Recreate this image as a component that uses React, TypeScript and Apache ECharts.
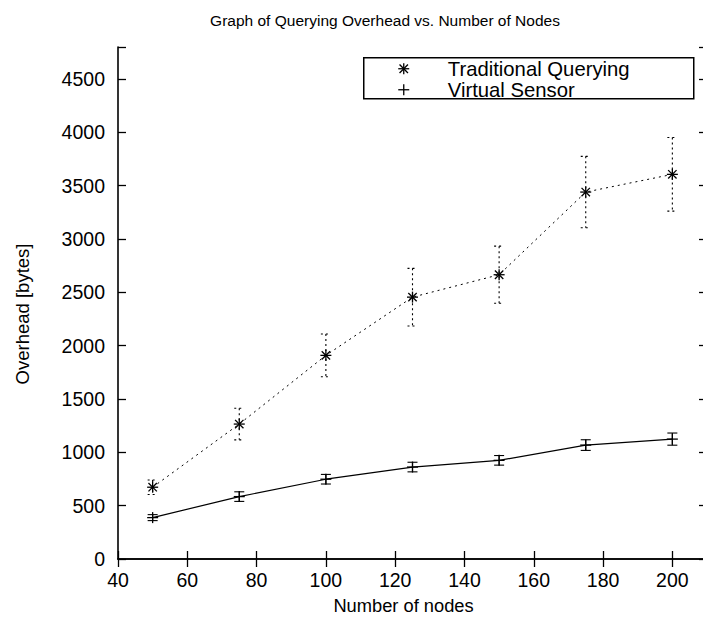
import React, { useEffect, useRef } from "react";
import * as echarts from "echarts";

// Number of nodes in each experiment
const nodes = [50, 75, 100, 125, 150, 175, 200];
// Mean overhead in bytes and the half-width of each error bar
const traditional = [673, 1265, 1909, 2455, 2665, 3440, 3606];
const traditionalErr = [68, 148, 200, 270, 268, 335, 345];
const virtualSensor = [388, 585, 748, 862, 925, 1068, 1124];
const virtualErr = [28, 45, 45, 45, 45, 50, 57];

const xTicks = [40, 60, 80, 100, 120, 140, 160, 180, 200];
const yTicks = [0, 500, 1000, 1500, 2000, 2500, 3000, 3500, 4000, 4500];

const FONT = "'Liberation Sans', Arial, Helvetica, sans-serif";
const TICK_SIZE = 19.5;

type Pt = [number, number];

function markerLines(cx: number, cy: number, star: boolean) {
  const h = 5.5;
  const d = 4.2;
  const segs: [number, number, number, number][] = [
    [cx - h, cy, cx + h, cy],
    [cx, cy - h, cx, cy + h],
  ];
  if (star) {
    segs.push([cx - d, cy - d, cx + d, cy + d]);
    segs.push([cx - d, cy + d, cx + d, cy - d]);
  }
  return segs.map((s) => ({
    type: "line",
    shape: { x1: s[0], y1: s[1], x2: s[2], y2: s[3] },
    style: { stroke: "#000", lineWidth: 1.3 },
  }));
}

function errorSeries(name: string, values: number[], errs: number[], dashed: boolean, star: boolean) {
  return {
    name,
    type: "custom",
    xAxisIndex: 0,
    yAxisIndex: 0,
    data: nodes.map((n, i) => [n, values[i], errs[i]]),
    renderItem: (_params: any, api: any) => {
      const x = api.value(0);
      const y = api.value(1);
      const e = api.value(2);
      const p: Pt = api.coord([x, y]);
      const top: Pt = api.coord([x, y + e]);
      const bot: Pt = api.coord([x, y - e]);
      const cap = 5;
      const barStyle: any = { stroke: "#000", lineWidth: 1.1 };
      if (dashed) barStyle.lineDash = [2, 3];
      const children: any[] = [
        { type: "line", shape: { x1: top[0], y1: top[1], x2: bot[0], y2: bot[1] }, style: barStyle },
        { type: "line", shape: { x1: top[0] - cap, y1: top[1], x2: top[0] + cap, y2: top[1] }, style: barStyle },
        { type: "line", shape: { x1: bot[0] - cap, y1: bot[1], x2: bot[0] + cap, y2: bot[1] }, style: barStyle },
        ...markerLines(p[0], p[1], star),
      ];
      return { type: "group", children };
    },
    z: 3,
  };
}

function lineSeries(name: string, values: number[], dashed: boolean) {
  return {
    name,
    type: "line",
    data: nodes.map((n, i) => [n, values[i]]),
    symbol: "none",
    lineStyle: { color: "#000", width: dashed ? 1 : 1.2, type: dashed ? [2, 4] : "solid" },
    z: 2,
  };
}

export default function App() {
  const ref = useRef<HTMLDivElement>(null);

  useEffect(() => {
    if (!ref.current) return;
    const chart = echarts.init(ref.current, undefined, { renderer: "svg" });

    const axisLine = { show: true, lineStyle: { color: "#000", width: 1.6 } };
    const tickInside = { show: true, inside: true, length: 8, lineStyle: { color: "#000", width: 1.3 } };

    chart.setOption({
      animation: false,
      backgroundColor: "#fff",
      title: {
        text: "Graph of Querying Overhead vs. Number of Nodes",
        left: 380,
        top: 7,
        textAlign: "center",
        textStyle: { fontFamily: FONT, fontSize: 15.5, fontWeight: "normal", color: "#000" },
      },
      grid: { left: 118, top: 47, right: 5, bottom: 65, outerBoundsMode: "none", containLabel: false },
      xAxis: [
        {
          type: "value",
          min: 40,
          max: 210,
          interval: 20,
          name: "Number of nodes",
          nameLocation: "middle",
          nameGap: 37,
          nameTextStyle: { fontFamily: FONT, fontSize: 18.3, color: "#000", padding: [0, 18, 0, 0] },
          axisLine,
          axisTick: tickInside,
          splitLine: { show: false },
          axisLabel: {
            fontFamily: FONT,
            fontSize: TICK_SIZE,
            color: "#000",
            margin: 11,
            formatter: (v: number) => (xTicks.includes(v) ? String(v) : ""),
          },
        },
        {
          type: "value",
          position: "top",
          min: 40,
          max: 210,
          interval: 20,
          axisLine,
          axisTick: tickInside,
          axisLabel: { show: false },
          splitLine: { show: false },
        },
      ],
      yAxis: [
        {
          type: "value",
          min: 0,
          max: 4800,
          interval: 500,
          name: "Overhead [bytes]",
          nameLocation: "middle",
          nameGap: 86,
          nameTextStyle: { fontFamily: FONT, fontSize: 18.5, color: "#000", padding: [0, 22, 0, 0] },
          axisLine,
          axisTick: tickInside,
          splitLine: { show: false },
          axisLabel: {
            fontFamily: FONT,
            fontSize: TICK_SIZE,
            color: "#000",
            margin: 13,
            formatter: (v: number) => (yTicks.includes(v) ? String(v) : ""),
          },
        },
        {
          type: "value",
          position: "right",
          min: 0,
          max: 4800,
          interval: 500,
          axisLine,
          axisTick: tickInside,
          axisLabel: { show: false },
          splitLine: { show: false },
        },
      ],
      series: [
        lineSeries("Traditional Querying", traditional, true),
        errorSeries("Traditional Querying", traditional, traditionalErr, true, true),
        lineSeries("Virtual Sensor", virtualSensor, false),
        errorSeries("Virtual Sensor", virtualSensor, virtualErr, false, false),
      ],
      graphic: [
        {
          type: "group",
          left: 363,
          top: 57,
          z: 10,
          children: [
            {
              type: "rect",
              shape: { x: 0, y: 0, width: 330, height: 41 },
              style: { fill: "#fff", stroke: "#000", lineWidth: 1.5 },
            },
            ...markerLines(40, 11, true),
            ...markerLines(40, 32, false),
            {
              type: "text",
              x: 84,
              y: 11,
              style: { text: "Traditional Querying", font: `20.3px ${FONT}`, fill: "#000", verticalAlign: "middle" },
            },
            {
              type: "text",
              x: 84,
              y: 32,
              style: { text: "Virtual Sensor", font: `20.3px ${FONT}`, fill: "#000", verticalAlign: "middle" },
            },
          ],
        },
      ],
    });

    return () => chart.dispose();
  }, []);

  return (
    <div style={{ position: "fixed", left: 0, top: 0, width: 703, height: 624, overflow: "hidden", background: "#fff" }}>
      <div ref={ref} style={{ width: 712, height: 624 }} />
    </div>
  );
}
